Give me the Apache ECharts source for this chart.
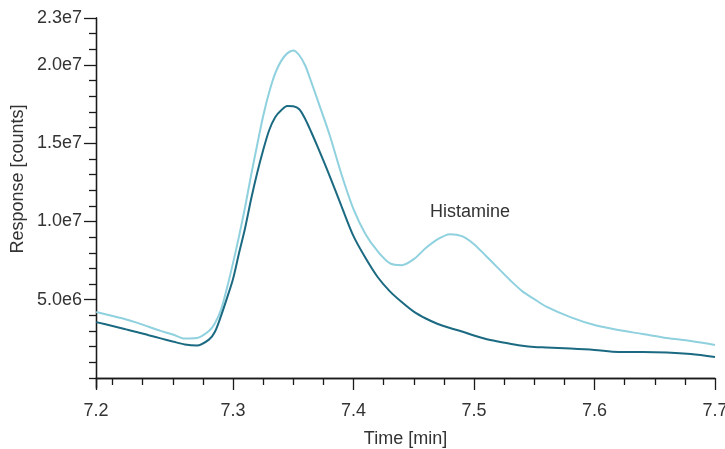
<!DOCTYPE html>
<html>
<head>
<meta charset="utf-8">
<script src="https://cdn.jsdelivr.net/npm/echarts@6/dist/echarts.min.js"></script>
<style>
    html, body { margin: 0; padding: 0; background: #fff; }
    #chart { width: 725px; height: 449px; }
</style>
</head>
<body>
<div id="chart"></div>
<script>
// retention time [min]
const times = [7.1865, 7.20, 7.21, 7.22, 7.23, 7.24, 7.25, 7.26, 7.27, 7.28,
    7.285, 7.29, 7.295, 7.30, 7.305, 7.31, 7.315, 7.32, 7.325, 7.33, 7.335,
    7.34, 7.345, 7.35, 7.355, 7.36, 7.365, 7.37, 7.38, 7.39, 7.40,
    7.41, 7.42, 7.43, 7.44, 7.45, 7.46, 7.47, 7.48, 7.49, 7.50,
    7.51, 7.52, 7.53, 7.54, 7.55, 7.56, 7.58, 7.60, 7.62, 7.64,
    7.66, 7.68, 7.70];
// response in millions of counts
const lightTrace = [4.21, 3.96, 3.77, 3.54, 3.27, 3.01, 2.78, 2.52, 2.55, 3.00,
    3.50, 4.35, 5.75, 7.34, 9.06, 10.91, 12.95, 14.87, 16.72, 18.25, 19.46,
    20.26, 20.74, 20.93, 20.62, 19.95, 18.90, 17.80, 15.57, 13.02, 10.79,
    9.19, 8.10, 7.34, 7.21, 7.59, 8.30, 8.87, 9.19, 9.06, 8.55,
    7.79, 7.02, 6.25, 5.55, 5.04, 4.56, 3.89, 3.38, 3.06, 2.81,
    2.55, 2.36, 2.11];
const darkTrace = [3.57, 3.32, 3.13, 2.94, 2.73, 2.53, 2.33, 2.14, 2.07, 2.45,
    2.95, 3.95, 5.10, 6.32, 7.98, 9.57, 11.42, 13.08, 14.55, 15.83, 16.66,
    17.10, 17.38, 17.36, 17.17, 16.53, 15.70, 14.81, 12.95, 10.98, 9.06,
    7.66, 6.45, 5.55, 4.85, 4.24, 3.80, 3.45, 3.19, 2.97, 2.71,
    2.49, 2.33, 2.19, 2.06, 1.98, 1.95, 1.88, 1.79, 1.66, 1.66,
    1.63, 1.53, 1.34];

const xMin = 7.1863, xMax = 7.7;
const yMin = -0.64e6, yMax = 2.3e7;
const xMajor = [xMin, 7.3, 7.4, 7.5, 7.6, 7.7];
const xMinor = [7.2, 7.225, 7.25, 7.275, 7.325, 7.35, 7.375, 7.425, 7.45, 7.475,
    7.525, 7.55, 7.575, 7.625, 7.65, 7.675];
const yMajor = [5e6, 1e7, 1.5e7, 2e7, 2.3e7];
const yMinor = [];
for (let v = 0; v <= 22; v++) {
    if (v % 5 != 0) yMinor.push(v * 1e6);
}
yMinor.push(0);

const font = 'Liberation Sans, Arial, Helvetica, sans-serif';
const textColor = '#333';
const axisColor = '#1a1a1a';

const toPairs = (arr) => times.map((t, i) => [t, arr[i] * 1e6]);

function $extend(a, b) {
    return Object.assign({}, a, b);
}

let myChart = echarts.init(document.getElementById('chart'), null, {renderer: 'canvas'});

const baseX = {
    type: 'value',
    min: xMin,
    max: xMax,
    position: 'bottom',
    splitLine: {show: false},
    axisLine: {show: true, lineStyle: {color: axisColor, width: 1.3}}
};
const baseY = {
    type: 'value',
    min: yMin,
    max: yMax,
    position: 'left',
    splitLine: {show: false},
    axisLine: {show: true, lineStyle: {color: axisColor, width: 1.3}}
};

let option = {
    animation: false,
    backgroundColor: '#fff',
    grid: {left: 96, right: 10, top: 18, bottom: 61, containLabel: false, outerBoundsMode: 'none'},
    xAxis: [
        $extend(baseX, {
            name: 'Time [min]',
            nameLocation: 'middle',
            nameGap: 42,
            nameTextStyle: {color: textColor, fontSize: 18, fontFamily: font},
            axisTick: {show: true, length: 12, customValues: xMajor, lineStyle: {color: axisColor, width: 1.3}},
            axisLabel: {
                show: true, margin: 14, color: textColor, fontSize: 18, fontFamily: font,
                customValues: xMajor,
                formatter: (v) => v.toFixed(1)
            }
        }),
        $extend(baseX, {
            axisTick: {show: true, length: 7, customValues: xMinor, lineStyle: {color: axisColor, width: 1.3}},
            axisLabel: {show: false}
        })
    ],
    yAxis: [
        $extend(baseY, {
            axisTick: {show: true, length: 12, customValues: yMajor, lineStyle: {color: axisColor, width: 1.3}},
            axisLabel: {
                show: true, margin: 14, color: textColor, fontSize: 18, fontFamily: font,
                customValues: yMajor,
                formatter: (v) => v.toExponential(1).replace('e+', 'e')
            }
        }),
        $extend(baseY, {
            axisTick: {show: true, length: 7, customValues: yMinor, lineStyle: {color: axisColor, width: 1.3}},
            axisLabel: {show: false}
        })
    ],
    graphic: [
        {
            type: 'text',
            x: 18,
            y: 179,
            rotation: Math.PI / 2,
            style: {
                text: 'Response [counts]',
                fill: textColor,
                fontSize: 18,
                fontFamily: font,
                align: 'center',
                verticalAlign: 'middle'
            }
        },
        {
            type: 'text',
            x: 470,
            y: 212,
            style: {
                text: 'Histamine',
                fill: textColor,
                fontSize: 18,
                fontFamily: font,
                align: 'center',
                verticalAlign: 'middle'
            }
        }
    ],
    series: [
        {
            name: 'light',
            type: 'line',
            data: toPairs(lightTrace),
            smooth: 0.3,
            showSymbol: false,
            lineStyle: {color: '#8fd1de', width: 2}
        },
        {
            name: 'dark',
            type: 'line',
            data: toPairs(darkTrace),
            smooth: 0.3,
            showSymbol: false,
            lineStyle: {color: '#1b6a82', width: 2}
        }
    ]
};

myChart.setOption(option);
</script>
</body>
</html>
